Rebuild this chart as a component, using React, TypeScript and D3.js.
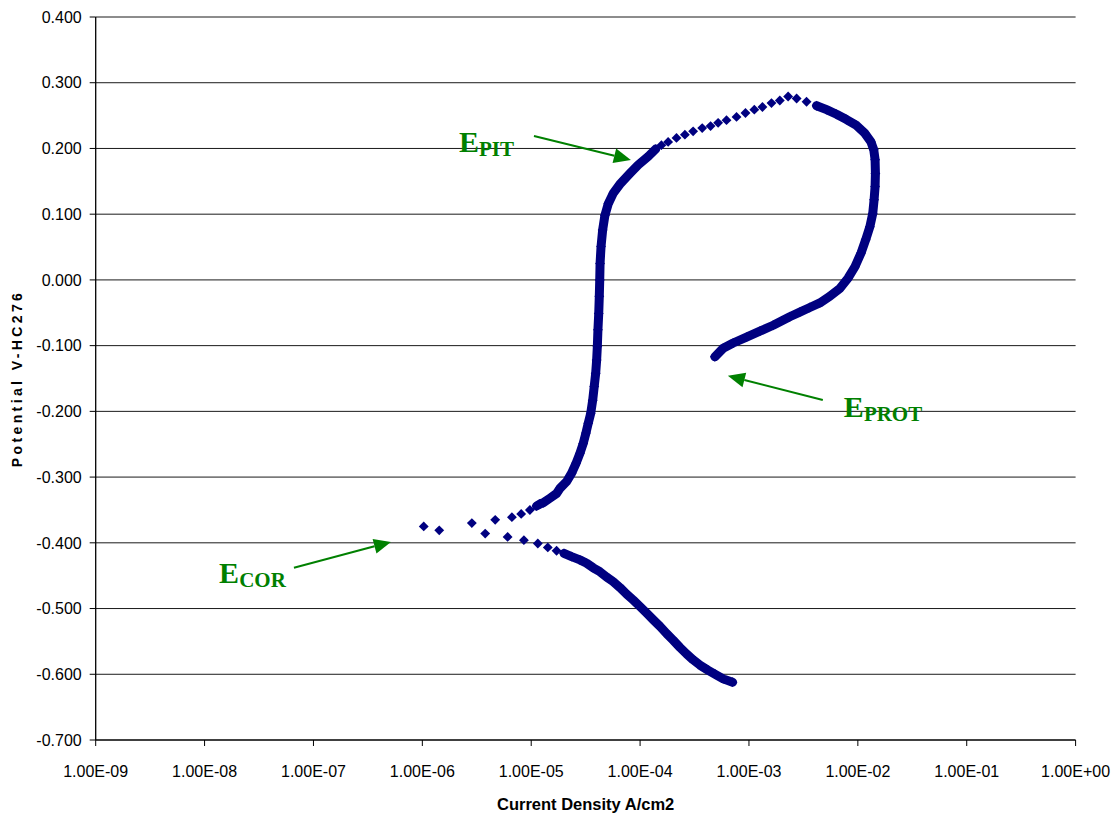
import React from "react";
import * as d3 from "d3";

// points: [current density A/cm2, potential V]
type Pt = [number, number];

// forward scan, cathodic side (starts bottom right)
const cathodicBranch: Pt[] = [
  [7.07e-4, -0.612], [5.8e-4, -0.607], [4.9e-4, -0.6], [4.23e-4, -0.594],
  [3.54e-4, -0.586], [3.07e-4, -0.578], [2.67e-4, -0.569], [2.32e-4, -0.559],
  [2.01e-4, -0.548], [1.75e-4, -0.538], [1.52e-4, -0.527], [1.32e-4, -0.517],
  [1.15e-4, -0.507], [1.0e-4, -0.497], [8.65e-5, -0.487], [7.52e-5, -0.478],
  [6.53e-5, -0.468], [5.66e-5, -0.459], [4.92e-5, -0.452], [4.27e-5, -0.444],
  [3.71e-5, -0.438], [3.23e-5, -0.431], [2.8e-5, -0.426], [2.35e-5, -0.421],
  [2.0e-5, -0.416],
];

// scattered points around Ecor
const corrosionPoints: Pt[] = [
  [1.71e-5, -0.412], [1.42e-5, -0.407], [1.15e-5, -0.401], [8.57e-6, -0.396],
  [6.07e-6, -0.391], [3.78e-6, -0.386], [1.43e-6, -0.381], [1.03e-6, -0.375],
  [2.85e-6, -0.37], [4.67e-6, -0.365], [6.65e-6, -0.361], [8.09e-6, -0.356],
  [9.72e-6, -0.35],
];

// passive region going up
const anodicBranch: Pt[] = [
  [1.12e-5, -0.344], [1.2e-5, -0.341], [1.29e-5, -0.339], [1.49e-5, -0.332],
  [1.71e-5, -0.325], [1.84e-5, -0.317], [2.11e-5, -0.307], [2.35e-5, -0.294],
  [2.58e-5, -0.279], [2.8e-5, -0.264], [3.0e-5, -0.249], [3.18e-5, -0.233],
  [3.34e-5, -0.218], [3.52e-5, -0.203], [3.67e-5, -0.183], [3.79e-5, -0.162],
  [3.91e-5, -0.142], [3.99e-5, -0.122], [4.05e-5, -0.101], [4.1e-5, -0.076],
  [4.17e-5, -0.051], [4.22e-5, -0.025], [4.26e-5, 0.0], [4.29e-5, 0.025],
  [4.38e-5, 0.051], [4.53e-5, 0.076], [4.75e-5, 0.098], [5.1e-5, 0.116],
  [5.68e-5, 0.132], [6.63e-5, 0.147], [8.07e-5, 0.162], [9.62e-5, 0.175],
  [1.19e-4, 0.188], [1.39e-4, 0.199],
];

// separate diamonds after pitting, up to the vertex
const peakPoints: Pt[] = [
  [1.57e-4, 0.205], [1.81e-4, 0.21], [2.16e-4, 0.216], [2.58e-4, 0.221],
  [3.07e-4, 0.226], [3.72e-4, 0.231], [4.44e-4, 0.234], [5.21e-4, 0.239],
  [6.22e-4, 0.243], [7.69e-4, 0.248], [9.29e-4, 0.254], [1.12e-3, 0.259],
  [1.33e-3, 0.263], [1.61e-3, 0.269], [1.92e-3, 0.273], [2.29e-3, 0.279],
  [2.74e-3, 0.276], [3.38e-3, 0.271],
];

// reverse scan back down to Eprot
const reverseScan: Pt[] = [
  [4.18e-3, 0.265], [5.16e-3, 0.259], [6.37e-3, 0.252], [7.87e-3, 0.244],
  [9.72e-3, 0.235], [1.16e-2, 0.223], [1.32e-2, 0.21], [1.4e-2, 0.198],
  [1.44e-2, 0.183], [1.45e-2, 0.162], [1.44e-2, 0.142], [1.41e-2, 0.122],
  [1.37e-2, 0.101], [1.29e-2, 0.081], [1.18e-2, 0.061], [1.07e-2, 0.041],
  [9.4e-3, 0.02], [8.15e-3, 0.003], [6.83e-3, -0.013], [5.53e-3, -0.025],
  [4.48e-3, -0.035], [3.62e-3, -0.042], [2.93e-3, -0.049], [2.37e-3, -0.056],
  [1.67e-3, -0.069], [1.26e-3, -0.078], [9.5e-4, -0.087], [7.16e-4, -0.096],
  [5.8e-4, -0.104], [4.86e-4, -0.117],
];

const xTickExponents = [-9, -8, -7, -6, -5, -4, -3, -2, -1, 0];
const yTickValues = [-0.7, -0.6, -0.5, -0.4, -0.3, -0.2, -0.1, 0, 0.1, 0.2, 0.3, 0.4];

// annotation labels: name, subscript, label anchor, arrow tail, arrow tip (data coords)
const annotations = [
  { main: "E", sub: "PIT", at: [2.17e-6, 0.195], from: [1.06e-5, 0.219], to: [8.23e-5, 0.1826] },
  { main: "E", sub: "PROT", at: [7.44e-3, -0.2084], from: [4.77e-3, -0.1826], to: [6.4e-4, -0.146] },
  { main: "E", sub: "COR", at: [1.36e-8, -0.4617], from: [6.62e-8, -0.438], to: [5.15e-7, -0.3986] },
];

const W = 1119;
const H = 823;
const margin = { top: 17, right: 43.4, bottom: 83, left: 95.7 };
const navy = "#000080";
const green = "#008000";
const sans = "'Liberation Sans', Arial, sans-serif";
const serif = "'Liberation Serif', 'Times New Roman', serif";

const fmtExp = (e: number) =>
  "1.00E" + (e < 0 ? "-" : "+") + String(Math.abs(e)).padStart(2, "0");

export default function App() {
  const x = d3.scaleLog().domain([1e-9, 1]).range([margin.left, W - margin.right]);
  const y = d3.scaleLinear().domain([-0.7, 0.4]).range([H - margin.bottom, margin.top]);

  const line = d3
    .line<Pt>()
    .x((d) => x(d[0]))
    .y((d) => y(d[1]));

  const diamond = d3.symbol(d3.symbolDiamond2, 62)();

  const denseSets = [cathodicBranch, anodicBranch, reverseScan];
  const allSets = [cathodicBranch, corrosionPoints, anodicBranch, peakPoints, reverseScan];

  const x0 = margin.left;
  const x1 = W - margin.right;
  const yBottom = H - margin.bottom;

  return (
    <svg
      width={W}
      height={H}
      style={{ position: "absolute", left: 0, top: 0, background: "#fff" }}
    >
      {/* grid */}
      {yTickValues.map((v) => (
        <g key={v}>
          {v > -0.7 && (
            <line x1={x0} x2={x1} y1={y(v)} y2={y(v)} stroke="#1a1a1a" strokeWidth={1} />
          )}
          <line x1={x0 - 6} x2={x0} y1={y(v)} y2={y(v)} stroke="#000" strokeWidth={1} />
          <text
            x={x0 - 14}
            y={y(v)}
            dy="0.36em"
            textAnchor="end"
            fontFamily={sans}
            fontSize={16}
            fill="#000"
          >
            {v.toFixed(3)}
          </text>
        </g>
      ))}

      {/* axes */}
      <line x1={x0} x2={x0} y1={margin.top} y2={yBottom} stroke="#000" strokeWidth={1.3} />
      <line x1={x0} x2={x1} y1={yBottom} y2={yBottom} stroke="#000" strokeWidth={1.3} />
      {xTickExponents.map((e) => {
        const px = x(Math.pow(10, e));
        return (
          <g key={e}>
            <line x1={px} x2={px} y1={yBottom} y2={yBottom + 6} stroke="#000" strokeWidth={1} />
            <text
              x={px}
              y={yBottom + 37}
              textAnchor="middle"
              fontFamily={sans}
              fontSize={16}
              fill="#000"
            >
              {fmtExp(e)}
            </text>
          </g>
        );
      })}

      <text
        x={(x0 + x1) / 2}
        y={810}
        textAnchor="middle"
        fontFamily={sans}
        fontWeight="bold"
        fontSize={16.5}
      >
        Current Density A/cm2
      </text>
      <text
        transform={`translate(22, ${(margin.top + yBottom) / 2}) rotate(-90)`}
        textAnchor="middle"
        fontFamily={sans}
        fontWeight="bold"
        fontSize={14}
        letterSpacing={3.4}
      >
        Potential V-HC276
      </text>

      {/* dense parts of the scan look like a solid band */}
      {denseSets.map((s, i) => (
        <path
          key={"band" + i}
          d={line(s) || ""}
          fill="none"
          stroke={navy}
          strokeWidth={9}
          strokeLinejoin="round"
          strokeLinecap="round"
        />
      ))}
      {allSets.map((s, i) => (
        <g key={"pts" + i} fill={navy}>
          {s.map((d, j) => (
            <path key={j} d={diamond} transform={`translate(${x(d[0])},${y(d[1])})`} />
          ))}
        </g>
      ))}

      {/* annotations */}
      {annotations.map((a) => {
        const fx = x(a.from[0]);
        const fy = y(a.from[1]);
        const tx = x(a.to[0]);
        const ty = y(a.to[1]);
        const ang = Math.atan2(ty - fy, tx - fx);
        const len = 17;
        const half = 7.5;
        const bx = tx - len * Math.cos(ang);
        const by = ty - len * Math.sin(ang);
        const nx = -Math.sin(ang) * half;
        const ny = Math.cos(ang) * half;
        return (
          <g key={a.sub}>
            <line x1={fx} y1={fy} x2={bx} y2={by} stroke={green} strokeWidth={2} />
            <polygon
              points={`${tx},${ty} ${bx + nx},${by + ny} ${bx - nx},${by - ny}`}
              fill={green}
            />
            <text
              x={x(a.at[0])}
              y={y(a.at[1])}
              fontFamily={serif}
              fontWeight="bold"
              fill={green}
            >
              <tspan fontSize={30}>{a.main}</tspan>
              <tspan fontSize={21} dy={4}>
                {a.sub}
              </tspan>
            </text>
          </g>
        );
      })}
    </svg>
  );
}
